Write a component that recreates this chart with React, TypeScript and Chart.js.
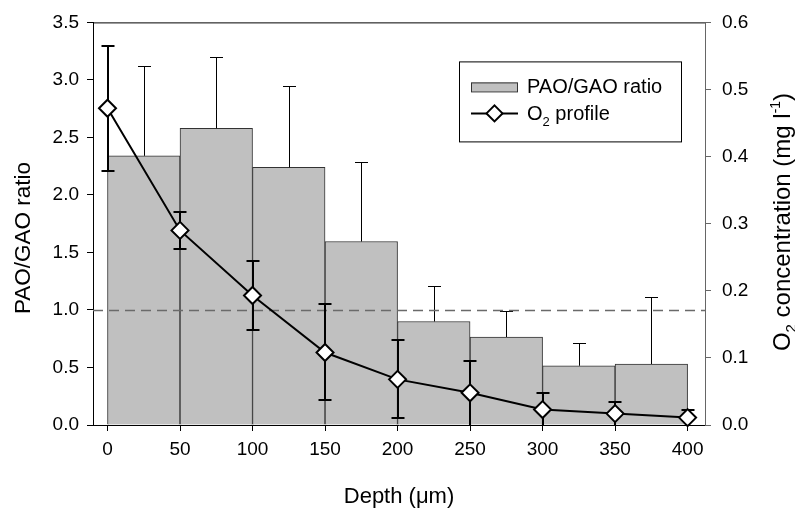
import React, { useEffect, useRef } from 'react';
import { Chart, registerables } from 'chart.js';

Chart.register(...registerables);

const FONT = '"Liberation Sans", Arial, sans-serif';

// PAO/GAO ratio bars (bin centres, µm)
const binCenters = [25, 75, 125, 175, 225, 275, 325, 375];
const ratioValues = [2.34, 2.58, 2.24, 1.595, 0.9, 0.765, 0.515, 0.53];
const ratioUpper = [3.12, 3.2, 2.95, 2.29, 1.21, 0.995, 0.715, 1.11];

// O2 profile
const o2Depths = [0, 50, 100, 150, 200, 250, 300, 350, 400];
const o2Values = [0.472, 0.29, 0.193, 0.108, 0.068, 0.048, 0.023, 0.017, 0.011];
const o2Upper = [0.565, 0.318, 0.245, 0.18, 0.127, 0.096, 0.048, 0.035, 0.022];
const o2Lower = [0.379, 0.262, 0.141, 0.037, 0.01, 0, 0, 0, 0];

const xTicks = [0, 50, 100, 150, 200, 250, 300, 350, 400];
const leftTicks = [0, 0.5, 1, 1.5, 2, 2.5, 3, 3.5];
const rightTicks = [0, 0.1, 0.2, 0.3, 0.4, 0.5, 0.6];
const thresholdRatio = 1.0;

type Part = { t: string; s: number; dy: number };

function drawParts(ctx: CanvasRenderingContext2D, parts: Part[], x: number, y: number, rot: number) {
  ctx.save();
  ctx.translate(x, y);
  ctx.rotate(rot);
  ctx.textAlign = 'left';
  ctx.textBaseline = 'alphabetic';
  ctx.fillStyle = '#000';
  let total = 0;
  const widths = parts.map((p) => {
    ctx.font = `${p.s}px ${FONT}`;
    const w = ctx.measureText(p.t).width;
    total += w;
    return w;
  });
  let cx = -total / 2;
  parts.forEach((p, i) => {
    ctx.font = `${p.s}px ${FONT}`;
    ctx.fillText(p.t, cx, p.dy);
    cx += widths[i];
  });
  ctx.restore();
}

const overlay = {
  id: 'overlay',
  afterDatasetDraw(chart: any, args: any) {
    const ctx: CanvasRenderingContext2D = chart.ctx;
    const area = chart.chartArea;
    const x = chart.scales.x;
    const y = chart.scales.y;
    const y1 = chart.scales.y1;
    if (args.index === 0) {
      ctx.save();
      ctx.beginPath();
      ctx.rect(area.left, area.top, area.right - area.left, area.bottom - area.top);
      ctx.clip();
      // bar error bars (upper only)
      ctx.strokeStyle = '#000';
      ctx.lineWidth = 1;
      binCenters.forEach((c, i) => {
        const px = Math.round(x.getPixelForValue(c)) + 0.5;
        const pTop = Math.round(y.getPixelForValue(ratioUpper[i])) + 0.5;
        const pVal = y.getPixelForValue(ratioValues[i]);
        ctx.beginPath();
        ctx.moveTo(px, pVal);
        ctx.lineTo(px, pTop);
        ctx.moveTo(px - 6.5, pTop);
        ctx.lineTo(px + 6.5, pTop);
        ctx.stroke();
      });
      // threshold dashed line
      const ty = Math.round(y.getPixelForValue(thresholdRatio)) + 0.5;
      ctx.strokeStyle = '#6a6a6a';
      ctx.lineWidth = 1.5;
      ctx.setLineDash([10, 6]);
      ctx.beginPath();
      ctx.moveTo(area.left, ty);
      ctx.lineTo(area.right, ty);
      ctx.stroke();
      ctx.setLineDash([]);
      // O2 error bars
      ctx.lineWidth = 2;
      ctx.strokeStyle = '#000';
      o2Depths.forEach((d, i) => {
        const px = Math.round(x.getPixelForValue(d));
        const pTop = Math.round(y1.getPixelForValue(o2Upper[i]));
        const pBot = Math.round(y1.getPixelForValue(o2Lower[i]));
        ctx.beginPath();
        ctx.moveTo(px, pBot);
        ctx.lineTo(px, pTop);
        ctx.moveTo(px - 6.5, pTop);
        ctx.lineTo(px + 6.5, pTop);
        if (o2Lower[i] > 0) {
          ctx.moveTo(px - 6.5, pBot);
          ctx.lineTo(px + 6.5, pBot);
        }
        ctx.stroke();
      });
      ctx.restore();
    }
  },
  afterDraw(chart: any) {
    const ctx: CanvasRenderingContext2D = chart.ctx;
    const area = chart.chartArea;
    ctx.save();
    // top frame line
    ctx.strokeStyle = '#000';
    ctx.lineWidth = 1;
    ctx.beginPath();
    ctx.moveTo(area.left, area.top + 0.5);
    ctx.lineTo(area.right, area.top + 0.5);
    ctx.stroke();

    // legend
    const lx = area.right - 246;
    const ly = area.top + 39;
    const lw = 222;
    const lh = 80;
    ctx.fillStyle = '#fff';
    ctx.fillRect(lx, ly, lw, lh);
    ctx.strokeStyle = '#000';
    ctx.lineWidth = 1;
    ctx.strokeRect(lx + 0.5, ly + 0.5, lw, lh);
    // bar sample
    ctx.fillStyle = '#c0c0c0';
    ctx.fillRect(lx + 12, ly + 21, 47, 9);
    ctx.strokeStyle = '#333';
    ctx.strokeRect(lx + 12.5, ly + 21.5, 46, 9);
    // line sample
    ctx.strokeStyle = '#000';
    ctx.lineWidth = 2;
    ctx.beginPath();
    ctx.moveTo(lx + 12, ly + 52);
    ctx.lineTo(lx + 59, ly + 52);
    ctx.stroke();
    const dcx = lx + 35.5;
    const dcy = ly + 52;
    const r = 8;
    ctx.beginPath();
    ctx.moveTo(dcx, dcy - r);
    ctx.lineTo(dcx + r, dcy);
    ctx.lineTo(dcx, dcy + r);
    ctx.lineTo(dcx - r, dcy);
    ctx.closePath();
    ctx.fillStyle = '#fff';
    ctx.fill();
    ctx.stroke();
    ctx.fillStyle = '#000';
    ctx.textAlign = 'left';
    ctx.textBaseline = 'alphabetic';
    ctx.font = `20px ${FONT}`;
    ctx.fillText('PAO/GAO ratio', lx + 68, ly + 32);
    ctx.fillText('O', lx + 68, ly + 59);
    const ow = ctx.measureText('O').width;
    ctx.font = `13px ${FONT}`;
    ctx.fillText('2', lx + 68 + ow, ly + 65);
    const sw = ctx.measureText('2').width;
    ctx.font = `20px ${FONT}`;
    ctx.fillText(' profile', lx + 68 + ow + sw, ly + 59);
    ctx.restore();

    // axis titles
    drawParts(ctx, [{ t: 'PAO/GAO ratio', s: 22.5, dy: 0 }], 30, 238, -Math.PI / 2);
    drawParts(ctx, [{ t: 'Depth (\u03bcm)', s: 22, dy: 0 }], 399, 503, 0);
    drawParts(
      ctx,
      [
        { t: 'O', s: 24, dy: 0 },
        { t: '2', s: 15, dy: 6 },
        { t: ' concentration (mg l', s: 24, dy: 0 },
        { t: '-1', s: 14, dy: -10 },
        { t: ')', s: 24, dy: 0 },
      ],
      790,
      222,
      -Math.PI / 2
    );
  },
};

export default function App() {
  const ref = useRef<HTMLCanvasElement | null>(null);
  useEffect(() => {
    document.body.style.margin = '0';
    const canvas = ref.current!;
    const chart = new Chart(canvas, {
      type: 'bar',
      data: {
        datasets: [
          {
            type: 'bar',
            label: 'PAO/GAO ratio',
            data: binCenters.map((c, i) => ({ x: c, y: ratioValues[i] })),
            backgroundColor: '#c0c0c0',
            borderColor: '#333',
            borderWidth: 1,
            categoryPercentage: 1,
            barPercentage: 1,
            xAxisID: 'x',
            yAxisID: 'y',
            order: 2,
          } as any,
          {
            type: 'line',
            label: 'O2 profile',
            data: o2Depths.map((d, i) => ({ x: d, y: o2Values[i] })),
            borderColor: '#000',
            borderWidth: 2,
            pointStyle: 'rectRot',
            pointRadius: 8.5,
            pointBackgroundColor: '#fff',
            pointBorderColor: '#000',
            pointBorderWidth: 2,
            tension: 0,
            clip: false,
            xAxisID: 'x',
            yAxisID: 'y1',
            order: 1,
          } as any,
        ],
      },
      options: {
        responsive: false,
        animation: false,
        devicePixelRatio: 1,
        layout: { padding: { top: 14, left: 0, right: 0, bottom: 0 } },
        plugins: { legend: { display: false }, tooltip: { enabled: false } },
        scales: {
          x: {
            type: 'linear',
            position: 'bottom',
            offset: false,
            min: -10,
            max: 412,
            afterBuildTicks: (s: any) => {
              s.ticks = xTicks.map((v) => ({ value: v }));
            },
            afterFit: (s: any) => {
              s.height = 84;
            },
            grid: { offset: false, drawOnChartArea: false, tickLength: 6, color: '#000', tickColor: '#000' },
            border: { color: '#000', width: 1 },
            ticks: { color: '#000', font: { size: 19, family: FONT }, padding: 7, maxRotation: 0, autoSkip: false },
          },
          y: {
            type: 'linear',
            position: 'left',
            min: 0,
            max: 3.5,
            afterBuildTicks: (s: any) => {
              s.ticks = leftTicks.map((v) => ({ value: v }));
            },
            afterFit: (s: any) => {
              s.width = 93;
            },
            grid: { drawOnChartArea: false, tickLength: 6, color: '#000', tickColor: '#000' },
            border: { color: '#000', width: 1 },
            ticks: {
              color: '#000',
              font: { size: 19, family: FONT },
              padding: 8,
              callback: (v: any) => Number(v).toFixed(1),
            },
          },
          y1: {
            type: 'linear',
            position: 'right',
            min: 0,
            max: 0.6,
            afterBuildTicks: (s: any) => {
              s.ticks = rightTicks.map((v) => ({ value: v }));
            },
            afterFit: (s: any) => {
              s.width = 90;
            },
            grid: { drawOnChartArea: false, tickLength: 6, color: '#666', tickColor: '#666' },
            border: { color: '#666', width: 1 },
            ticks: {
              color: '#000',
              font: { size: 19, family: FONT },
              padding: 11,
              callback: (v: any) => Number(v).toFixed(1),
            },
          },
        },
      },
      plugins: [overlay],
    });
    return () => chart.destroy();
  }, []);
  return <canvas ref={ref} width={795} height={509} style={{ display: 'block', width: 795, height: 509 }} />;
}
